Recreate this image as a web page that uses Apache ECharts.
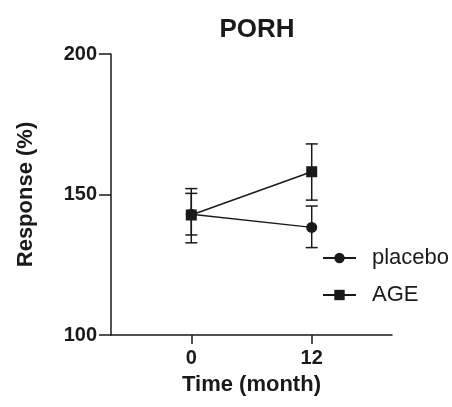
<!DOCTYPE html>
<html>
<head>
<meta charset="utf-8">
<script src="https://cdn.jsdelivr.net/npm/echarts@6/dist/echarts.min.js"></script>
<style>
  html, body { margin: 0; padding: 0; background: #fff; }
  #chart { width: 452px; height: 407px; }
</style>
</head>
<body>
<div id="chart"></div>
<script>
// time points (months)
const months = [0, 12];
// mean response (%) and error bar ends
const placeboMean = [143, 138.3];
const placeboLow = [135.6, 131.1];
const placeboHigh = [150.4, 145.9];
const ageMean = [142.7, 158.1];
const ageLow = [132.8, 148.0];
const ageHigh = [152.1, 168.0];
const yTicks = [100, 150, 200];

const font = "Liberation Sans, Arial, sans-serif";
const ink = "#1a1a1a";

const toPairs = (ys) => months.map((m, i) => [m, ys[i]]);
const toBars = (lo, hi) => months.map((m, i) => [m, lo[i], hi[i]]);

// whiskers with caps
const renderErr = (params, api) => {
  const x = api.value(0);
  const top = api.coord([x, api.value(2)]);
  const bot = api.coord([x, api.value(1)]);
  const half = 6;
  const style = { stroke: ink, lineWidth: 1.5 };
  return {
    type: "group",
    children: [
      { type: "line", shape: { x1: top[0], y1: top[1], x2: bot[0], y2: bot[1] }, style },
      { type: "line", shape: { x1: top[0] - half, y1: top[1], x2: top[0] + half, y2: top[1] }, style },
      { type: "line", shape: { x1: bot[0] - half, y1: bot[1], x2: bot[0] + half, y2: bot[1] }, style },
    ],
  };
};

const chart = echarts.init(document.getElementById("chart"));

chart.setOption({
  animation: false,
  title: {
    text: "PORH",
    left: 252,
    textAlign: "center",
    top: 12,
    textStyle: { fontFamily: font, fontSize: 26, fontWeight: "bold", color: ink },
  },
  legend: {
    data: ["placebo", "AGE"],
    orient: "vertical",
    left: 317,
    top: 242,
    itemWidth: 33,
    itemHeight: 13,
    itemGap: 15,
    textStyle: { fontFamily: font, fontSize: 22, color: ink, padding: [0, 0, 0, 11] },
  },
  grid: { left: 111, right: 60, top: 54, bottom: 72 },
  xAxis: {
    type: "value",
    min: -8,
    max: 20,
    name: "Time (month)",
    nameLocation: "middle",
    nameGap: 39,
    nameTextStyle: { fontFamily: font, fontSize: 22, fontWeight: "bold", color: ink },
    splitLine: { show: false },
    axisLine: { onZero: false, lineStyle: { color: ink, width: 1.5 } },
    axisTick: { customValues: months, length: 9, lineStyle: { color: ink, width: 1.5 } },
    axisLabel: {
      customValues: months,
      margin: 13,
      fontFamily: font,
      fontSize: 20,
      fontWeight: "bold",
      color: ink,
    },
  },
  yAxis: {
    type: "value",
    min: yTicks[0],
    max: yTicks[yTicks.length - 1],
    interval: 50,
    name: "Response (%)",
    nameLocation: "middle",
    nameGap: 74,
    nameTextStyle: { fontFamily: font, fontSize: 22, fontWeight: "bold", color: ink },
    splitLine: { show: false },
    axisLine: { show: true, onZero: false, lineStyle: { color: ink, width: 1.5 } },
    axisTick: { show: true, length: 12, lineStyle: { color: ink, width: 1.5 } },
    axisLabel: { margin: 14, fontFamily: font, fontSize: 20, fontWeight: "bold", color: ink },
  },
  series: [
    {
      name: "placebo",
      type: "line",
      data: toPairs(placeboMean),
      symbol: "circle",
      symbolSize: 11,
      lineStyle: { color: ink, width: 1.5 },
      itemStyle: { color: ink },
      z: 3,
    },
    {
      name: "AGE",
      type: "line",
      data: toPairs(ageMean),
      symbol: "rect",
      symbolSize: 11,
      lineStyle: { color: ink, width: 1.5 },
      itemStyle: { color: ink },
      z: 4,
    },
    {
      type: "custom",
      renderItem: renderErr,
      data: toBars(placeboLow, placeboHigh),
      z: 2,
      silent: true,
    },
    {
      type: "custom",
      renderItem: renderErr,
      data: toBars(ageLow, ageHigh),
      z: 2,
      silent: true,
    },
  ],
});
</script>
</body>
</html>
